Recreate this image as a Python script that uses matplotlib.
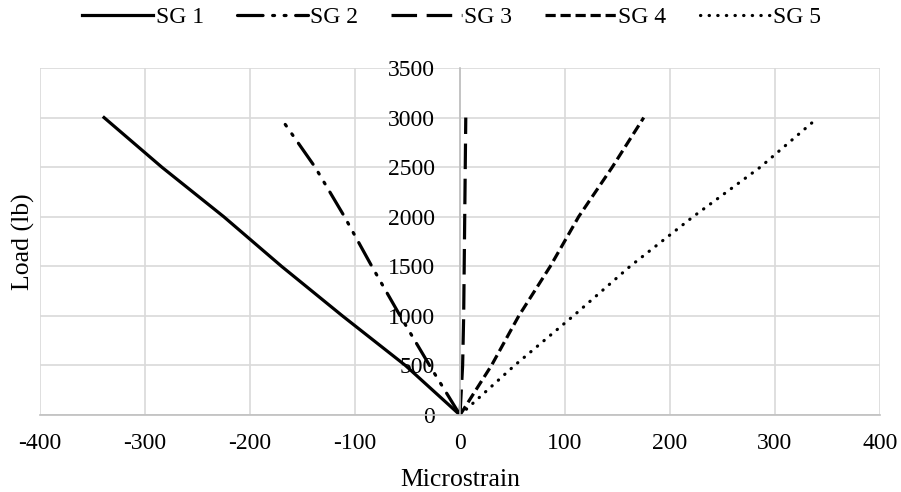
import matplotlib.pyplot as plt

plt.rcParams['font.family'] = ['Liberation Serif', 'DejaVu Serif']
plt.rcParams['axes.unicode_minus'] = False

# Load steps (lb) and strain readings per gauge (microstrain)
load = [0, 500, 1000, 1500, 2000, 2500, 3000]
sg1 = [0, -52, -112, -170, -225, -284, -339]
sg2 = [0, -29, -57, -84, -110, -138, -171]
sg3 = [0, 2.5, 3.5, 4, 4.5, 5, 5.5]
sg4 = [0, 30, 56, 86, 113, 145, 175]
sg5 = [0, 52, 108, 162, 222, 286, 341]

labels = ['SG 1', 'SG 2', 'SG 3', 'SG 4', 'SG 5']
x_ticks = [-400, -300, -200, -100, 0, 100, 200, 300, 400]
y_ticks = [0, 500, 1000, 1500, 2000, 2500, 3000, 3500]

fs = 17
fig = plt.figure(figsize=(9.01, 4.92), dpi=100)
ax = fig.add_axes([40 / 901, 1 - 415 / 492, 840 / 901, 347 / 492])

lw = 2.3
ax.plot(sg1, load, color='black', lw=lw, linestyle='-', label=labels[0])
ax.plot(sg2, load, color='black', lw=lw, linestyle=(0, (8, 3, 0.6, 3, 0.6, 3)),
        dash_capstyle='round', label=labels[1])
ax.plot(sg3, load, color='black', lw=lw, linestyle=(0, (8, 3)), label=labels[2])
ax.plot(sg4, load, color='black', lw=lw, linestyle=(0, (3.2, 1.5)), label=labels[3])
ax.plot(sg5, load, color='black', lw=lw, linestyle=(0, (0.1, 2.6)),
        dash_capstyle='round', label=labels[4])

ax.set_xlim(-400, 400)
ax.set_ylim(0, 3500)
ax.set_xticks(x_ticks)
ax.set_yticks(y_ticks)
ax.grid(True, color='#d9d9d9', lw=1.2)
ax.set_axisbelow(True)

for s in ['top', 'right']:
    ax.spines[s].set_visible(False)
ax.spines['left'].set_position(('data', 0))
ax.spines['left'].set_color('#bfbfbf')
ax.spines['left'].set_linewidth(1.2)
ax.spines['bottom'].set_color('#bfbfbf')
ax.spines['bottom'].set_linewidth(1.2)
ax.tick_params(length=0, labelsize=fs)
ax.tick_params(axis='y', pad=18)
ax.tick_params(axis='x', pad=13)

ax.set_xlabel('Microstrain', fontsize=18.5, labelpad=11)
ax.set_ylabel('Load (lb)', fontsize=18.5)
ax.yaxis.set_label_coords(-0.006, 0.5)

ax.legend(loc='upper center', bbox_to_anchor=(0.49, 1 + 83 / 347), ncol=5,
          frameon=False, fontsize=fs, handlelength=3.0, handletextpad=0.1,
          columnspacing=1.4)

fig.savefig('out.png', dpi=100)
